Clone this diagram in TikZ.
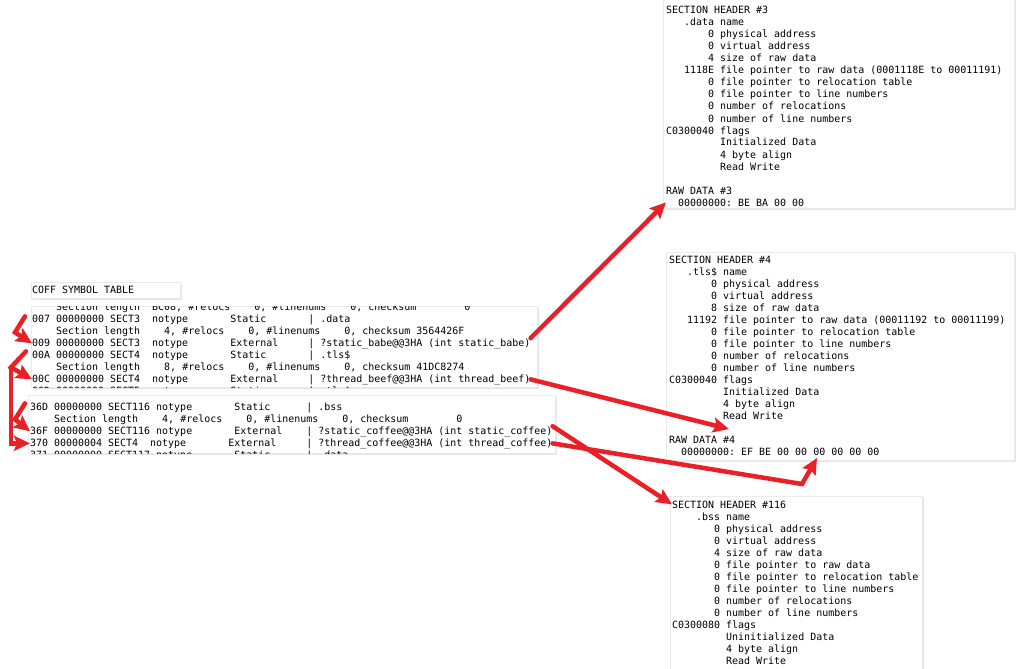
\documentclass[tikz,border=0pt]{standalone}
\usepackage{fontspec}
\newfontfamily\dumpfont{DejaVu Sans Mono}
\usetikzlibrary{arrows.meta,calc,shadows}
\definecolor{markred}{RGB}{234,32,40}
\frenchspacing

\begin{document}
\begin{tikzpicture}[
  x=1pt, y=-1pt,
  panel/.style={draw=black!8, fill=white, inner sep=0pt, anchor=north west,
    drop shadow={shadow xshift=2pt, shadow yshift=-2pt, opacity=0.2}},
  dumprow/.style={font=\dumpfont\fontsize{9.97}{12}\selectfont, inner sep=0pt, anchor=base west},
  redarrow/.style={draw=markred, line width=4.5pt, line cap=round,
    -{Stealth[length=16pt,width=15pt,inset=3pt]}}
]
\useasboundingbox (0,0) rectangle (1021,669);
\fill[white] (0,0) rectangle (1021,669);
\clip (0,0) rectangle (1021,669);

% ---- symbol table (left) ----
\node[panel, minimum width=149pt, minimum height=16pt] (coff) at (31,282) {};
\node[dumprow] (coff-title) at (32,293) {COFF SYMBOL TABLE};

\node[panel, minimum width=506pt, minimum height=81pt] (symA) at (31,306) {};
\begin{scope}
  \clip (symA.north west) rectangle (symA.south east);
  \foreach \txt [count=\i from 0] in {
    {~~~~Section length~~BC08, \#relocs~~~~0, \#linenums~~~~0, checksum~~~~~~~~0},
    {007 00000000 SECT3~~notype~~~~~~~Static~~~~~~~| .data},
    {~~~~Section length~~~~4, \#relocs~~~~0, \#linenums~~~~0, checksum 3564426F},
    {009 00000000 SECT3~~notype~~~~~~~External~~~~~| ?static\_babe@@3HA (int static\_babe)},
    {00A 00000000 SECT4~~notype~~~~~~~Static~~~~~~~| .tls\$},
    {~~~~Section length~~~~8, \#relocs~~~~0, \#linenums~~~~0, checksum 41DC8274},
    {00C 00000000 SECT4~~notype~~~~~~~External~~~~~| ?thread\_beef@@3HA (int thread\_beef)},
    {00D 00000000 SECT5~~notype~~~~~~~Static~~~~~~~| .tls\$}}
    \node[dumprow] (symA-\i) at (32,{310+12*\i}) {\txt};
\end{scope}

\node[panel, minimum width=527pt, minimum height=58pt] (symB) at (28,395) {};
\begin{scope}
  \clip (symB.north west) rectangle (symB.south east);
  \foreach \txt [count=\i from 0] in {
    {36D 00000000 SECT116 notype~~~~~~~Static~~~~~~| .bss},
    {~~~~Section length~~~~4, \#relocs~~~~0, \#linenums~~~~0, checksum~~~~~~~~0},
    {36F 00000000 SECT116 notype~~~~~~~External~~~~| ?static\_coffee@@3HA (int static\_coffee)},
    {370 00000004 SECT4~~notype~~~~~~~External~~~~~| ?thread\_coffee@@3HA (int thread\_coffee)},
    {371 00000000 SECT117 notype~~~~~~~Static~~~~~~| .data}}
    \node[dumprow] (symB-\i) at (30,{410+12*\i}) {\txt};
\end{scope}

% ---- section headers (right) ----
\node[panel, minimum width=351pt, minimum height=213pt] (sh3) at (663,-5) {};
\foreach \txt [count=\i from 0] in {
  {SECTION HEADER \#3},
  {~~~.data name},
  {~~~~~~~0 physical address},
  {~~~~~~~0 virtual address},
  {~~~~~~~4 size of raw data},
  {~~~1118E file pointer to raw data (0001118E to 00011191)},
  {~~~~~~~0 file pointer to relocation table},
  {~~~~~~~0 file pointer to line numbers},
  {~~~~~~~0 number of relocations},
  {~~~~~~~0 number of line numbers},
  {C0300040 flags},
  {~~~~~~~~~Initialized Data},
  {~~~~~~~~~4 byte align},
  {~~~~~~~~~Read Write}}
  \node[dumprow] (sh3-\i) at (666,{14+12*\i}) {\txt};
\node[dumprow] (raw3) at (666,194) {RAW DATA \#3};
\node[dumprow] (bytes3) at (666,206) {~~00000000: BE BA 00 00};

\node[panel, minimum width=348pt, minimum height=208pt] (sh4) at (666,252) {};
\foreach \txt [count=\i from 0] in {
  {SECTION HEADER \#4},
  {~~~.tls\$ name},
  {~~~~~~~0 physical address},
  {~~~~~~~0 virtual address},
  {~~~~~~~8 size of raw data},
  {~~~11192 file pointer to raw data (00011192 to 00011199)},
  {~~~~~~~0 file pointer to relocation table},
  {~~~~~~~0 file pointer to line numbers},
  {~~~~~~~0 number of relocations},
  {~~~~~~~0 number of line numbers},
  {C0300040 flags},
  {~~~~~~~~~Initialized Data},
  {~~~~~~~~~4 byte align},
  {~~~~~~~~~Read Write}}
  \node[dumprow] (sh4-\i) at (669,{263+12*\i}) {\txt};
\node[dumprow] (raw4) at (669,443) {RAW DATA \#4};
\node[dumprow] (bytes4) at (669,455) {~~00000000: EF BE 00 00 00 00 00 00};

\node[panel, minimum width=252pt, minimum height=180pt] (sh116) at (670,496) {};
\foreach \txt [count=\i from 0] in {
  {SECTION HEADER \#116},
  {~~~~.bss name},
  {~~~~~~~0 physical address},
  {~~~~~~~0 virtual address},
  {~~~~~~~4 size of raw data},
  {~~~~~~~0 file pointer to raw data},
  {~~~~~~~0 file pointer to relocation table},
  {~~~~~~~0 file pointer to line numbers},
  {~~~~~~~0 number of relocations},
  {~~~~~~~0 number of line numbers},
  {C0300080 flags},
  {~~~~~~~~~Uninitialized Data},
  {~~~~~~~~~4 byte align},
  {~~~~~~~~~Read Write}}
  \node[dumprow] (sh116-\i) at (672,{508+12*\i}) {\txt};

% ---- symbol -> section arrows ----
\draw[redarrow] (symA-3.north east) -- (bytes3.west);
\draw[redarrow] (symA-6.east) -- ($(sh4-13.base west)+(60,10)$);
\draw[redarrow] (symB-2.north east) -- (sh116-0.west);
\coordinate (kink) at ($(bytes4.base west)+(133,29)$);
\draw[redarrow] (symB-3.east) -- (kink) -- ($(bytes4.base west)+(148,3)$);

% ---- section symbol -> variable hooks ----
\draw[redarrow] ($(symA-1.west)+(-7,-3)$) -- ++(-10,16) -- (symA-3.west);
\draw[redarrow] ($(symA-4.west)+(-6,-4)$) -- ++(-15,16) coordinate (split) -- (symA-6.west);
\draw[redarrow] (split) -- (split |- symB-3.west) -- (symB-3.west);
\draw[redarrow] ($(symB-0.west)+(-5,-4)$) -- ++(-10,16) -- (symB-2.west);

\end{tikzpicture}
\end{document}
